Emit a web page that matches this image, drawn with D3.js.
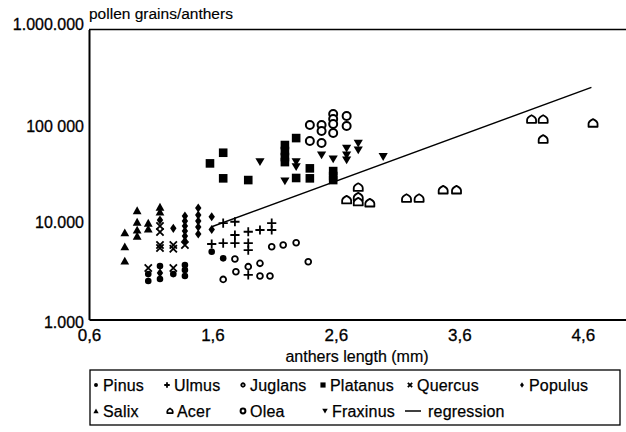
<!DOCTYPE html>
<html>
<head>
<meta charset="utf-8">
<script src="https://cdn.jsdelivr.net/npm/d3@7"></script>
<style>
  body { margin: 0; background: #fff; }
  svg text { font-family: "Liberation Sans", Arial, sans-serif; fill: #000; }
</style>
</head>
<body>
<div id="chart"></div>
<script>
// data: [anther length (mm), pollen grains per anther]
let pinus    = [[1.08,2950],[1.08,2500],[1.175,3580],[1.175,2620],[1.283,2950],[1.377,3660],[1.377,3250],[1.377,2820],[1.594,5020],[1.687,4290]];
let ulmus    = [[1.594,6040],[1.687,9950],[1.782,10260],[1.687,6180],[1.782,7480],[1.782,6180],[1.89,8090],[1.89,6180],[1.89,5230],[1.985,8430],[2.08,9950],[2.08,8430],[1.89,2890]];
let juglans  = [[1.782,4220],[2.08,5660],[2.173,5890],[2.278,6230],[2.376,3960],[1.985,3810],[1.89,3520],[1.79,3120],[1.985,2820],[2.066,2820],[1.687,2600]];
let platanus = [[1.58,41200],[1.687,53100],[1.687,28860],[1.89,27700],[2.187,63800],[2.187,55300],[2.187,47900],[2.187,42500],[2.278,75300],[2.278,29100],[2.389,36600],[2.389,28860],[2.578,34300],[2.578,30500],[2.578,27700]];
let quercus  = [[1.175,9270],[1.175,8030],[1.175,5890],[1.175,5490],[1.283,5890],[1.283,5400],[1.377,5890],[1.08,3410],[1.283,3410]];
let populus  = [[1.175,10690],[1.283,8770],[1.377,11750],[1.377,10440],[1.377,9270],[1.377,8230],[1.377,7300],[1.377,6490],[1.485,14230],[1.485,12040],[1.485,10440],[1.485,9050],[1.485,7660],[1.594,11560],[1.594,8530],[1.175,3030]];
let salix    = [[0.89,7900],[0.89,5660],[0.89,4030],[0.99,13400],[0.99,10190],[0.99,8430],[0.99,7300],[1.08,9950],[1.08,8630],[1.175,14570],[1.175,12940]];
let acer     = [[2.781,23200],[2.687,17200],[2.781,18490],[2.781,16400],[2.875,16000],[3.172,17900],[3.274,17900],[3.469,21800],[3.577,21800],[4.185,117500],[4.279,117500],[4.279,73000],[4.683,106900]];
let olea     = [[2.389,102600],[2.484,102600],[2.484,89000],[2.578,133400],[2.578,118400],[2.578,105200],[2.578,84900],[2.687,127200],[2.687,100200],[2.389,70200],[2.484,66900]];
let fraxinus = [[1.985,42800],[2.187,27100],[2.278,42800],[2.278,38000],[2.484,50300],[2.578,45700],[2.687,58900],[2.687,50300],[2.687,44600],[2.781,66400],[2.781,56600],[2.983,48300]];
let regression = [[1.594,9120],[4.67,251800]];

// ticks
let xTicks = [0.6, 1.6, 2.6, 3.6, 4.6];
let xTickLabels = ["0,6", "1,6", "2,6", "3,6", "4,6"];
let yTicks = [1000, 10000, 100000, 1000000];
let yTickLabels = ["1.000", "10.000", "100 000", "1.000.000"];

// legend rows: [name, marker]
let legendRow1 = [["Pinus","dot"],["Ulmus","plus"],["Juglans","ring"],["Platanus","square"],["Quercus","cross"],["Populus","diamond"]];
let legendRow2 = [["Salix","up"],["Acer","house"],["Olea","bigring"],["Fraxinus","down"],["regression","line"]];

////////////////// setup ////////////////////////////////////

let width = 626, height = 432;
let svg = d3.select("#chart").append("svg")
            .attr("width", width)
            .attr("height", height);

let x = d3.scaleLinear().domain([0.6, 4.95]).range([89, 626]);
let y = d3.scaleLog().domain([1000, 1000000]).range([319.5, 29.5]);

// axes (domain path = the axis line)
svg.append("g")
   .attr("class", "yaxis")
   .attr("transform", "translate(89,0)")
   .call(d3.axisLeft(y).tickValues(yTicks).tickSize(0).tickSizeOuter(0).tickPadding(5)
           .tickFormat(function(d, i) { return yTickLabels[i]; }));
svg.append("g")
   .attr("class", "xaxis")
   .attr("transform", "translate(0,319.5)")
   .call(d3.axisBottom(x).tickValues(xTicks).tickSize(0).tickSizeOuter(0).tickPadding(9)
           .tickFormat(function(d, i) { return xTickLabels[i]; }));
svg.selectAll(".domain").attr("stroke", "#000").attr("stroke-width", 2);
svg.selectAll(".tick text")
   .attr("fill", "#000")
   .attr("stroke", "#000").attr("stroke-width", 0.3);
svg.selectAll(".xaxis .tick text").style("font-size", "17px");
svg.selectAll(".yaxis .tick text").style("font-size", "16px");
// nudge top and bottom y labels like the original
svg.selectAll(".yaxis .tick text").filter(function(d) { return d === 1000000 }).attr("y", -5);
svg.selectAll(".yaxis .tick text").filter(function(d) { return d === 1000 }).attr("y", 3);

// top frame line
svg.append("line")
   .attr("x1", x(0.6)).attr("x2", 626)
   .attr("y1", y(1000000)).attr("y2", y(1000000))
   .attr("stroke", "#000").attr("stroke-width", 1.5);

// axis titles
svg.append("text").attr("x", 89).attr("y", 19)
   .style("font-size", "15.5px")
   .attr("stroke", "#000").attr("stroke-width", 0.15)
   .text("pollen grains/anthers");
svg.append("text").attr("x", 357).attr("y", 362)
   .style("text-anchor", "middle").style("font-size", "16px")
   .attr("stroke", "#000").attr("stroke-width", 0.2)
   .text("anthers length (mm)");

////////////////// markers ////////////////////////////////////

// draw one marker kind at (0,0) into selection g, size factor s
function marker(g, kind, s) {
  if (kind == "dot") {
    g.append("circle").attr("r", 3.3 * s).attr("fill", "#000");
  } else if (kind == "ring") {
    g.append("circle").attr("r", 2.9 * s).attr("fill", "#fff").attr("stroke", "#000").attr("stroke-width", 1.8);
  } else if (kind == "bigring") {
    g.append("circle").attr("r", 4 * s).attr("fill", "#fff").attr("stroke", "#000").attr("stroke-width", 2);
  } else if (kind == "square") {
    g.append("rect").attr("x", -4.3 * s).attr("y", -4.3 * s).attr("width", 8.6 * s).attr("height", 8.6 * s).attr("fill", "#000");
  } else if (kind == "diamond") {
    g.append("path").attr("d", `M0,${-4.6*s}L${3.2*s},0L0,${4.6*s}L${-3.2*s},0Z`).attr("fill", "#000");
  } else if (kind == "up") {
    g.append("path").attr("d", `M0,${-4.2*s}L${4.4*s},${3.6*s}L${-4.4*s},${3.6*s}Z`).attr("fill", "#000");
  } else if (kind == "down") {
    g.append("path").attr("d", `M0,${4.2*s}L${4.6*s},${-3.6*s}L${-4.6*s},${-3.6*s}Z`).attr("fill", "#000");
  } else if (kind == "plus") {
    g.append("path").attr("d", `M${-4.6*s},0H${4.6*s}M0,${-4.6*s}V${4.6*s}`).attr("stroke", "#000").attr("stroke-width", 1.8);
  } else if (kind == "cross") {
    g.append("path").attr("d", `M${-3.6*s},${-3.6*s}L${3.6*s},${3.6*s}M${3.6*s},${-3.6*s}L${-3.6*s},${3.6*s}`).attr("stroke", "#000").attr("stroke-width", 1.8);
  } else if (kind == "house") {
    g.append("path").attr("d", `M${-4.5*s},${3.4*s}H${4.5*s}V${0.5*s}Q${4.5*s},${-2*s} 0,${-4.2*s}Q${-4.5*s},${-2*s} ${-4.5*s},${0.5*s}Z`)
     .attr("fill", "#fff").attr("stroke", "#000").attr("stroke-width", 1.8).attr("stroke-linejoin", "round");
  } else if (kind == "line") {
    g.append("line").attr("x1", -8).attr("x2", 8).attr("stroke", "#000").attr("stroke-width", 1.5);
  }
}

// regression line
svg.append("path")
   .datum(regression)
   .attr("fill", "none")
   .attr("stroke", "#000")
   .attr("stroke-width", 1.5)
   .attr("d", d3.line().x(function(d) { return x(d[0]) }).y(function(d) { return y(d[1]) }));

// all species, drawing order
let series = [[platanus,"square"],[fraxinus,"down"],[olea,"bigring"],[acer,"house"],[juglans,"ring"],
              [ulmus,"plus"],[pinus,"dot"],[populus,"diamond"],[quercus,"cross"],[salix,"up"]];
let points = svg.append("g");
series.forEach(function(sr) {
  points.selectAll(null).data(sr[0]).enter()
        .append("g")
        .attr("transform", function(d) { return `translate(${x(d[0])},${y(d[1])})` })
        .each(function() { marker(d3.select(this), sr[1], 1); });
});

////////////////// legend ////////////////////////////////////

svg.append("rect").attr("x", 90).attr("y", 370).attr("width", 530).attr("height", 55)
   .attr("fill", "none").attr("stroke", "#000").attr("stroke-width", 1.3);

let row1X = [96, 167, 243, 323, 410, 522];
let row2X = [96, 170, 243, 325, 413];
function legendRow(items, xs, yy) {
  items.forEach(function(it, i) {
    let g = svg.append("g").attr("transform", `translate(${xs[i]},${yy})`);
    marker(g, it[1], it[1] == "line" ? 1 : 0.6);
    g.append("text").attr("x", it[1] == "line" ? 15 : 7).attr("y", 6)
     .style("font-size", "16px").style("letter-spacing", "0.2px")
     .attr("stroke", "#000").attr("stroke-width", 0.25)
     .text(it[0]);
  });
}
legendRow(legendRow1, row1X, 385);
legendRow(legendRow2, row2X, 411);
</script>
</body>
</html>
